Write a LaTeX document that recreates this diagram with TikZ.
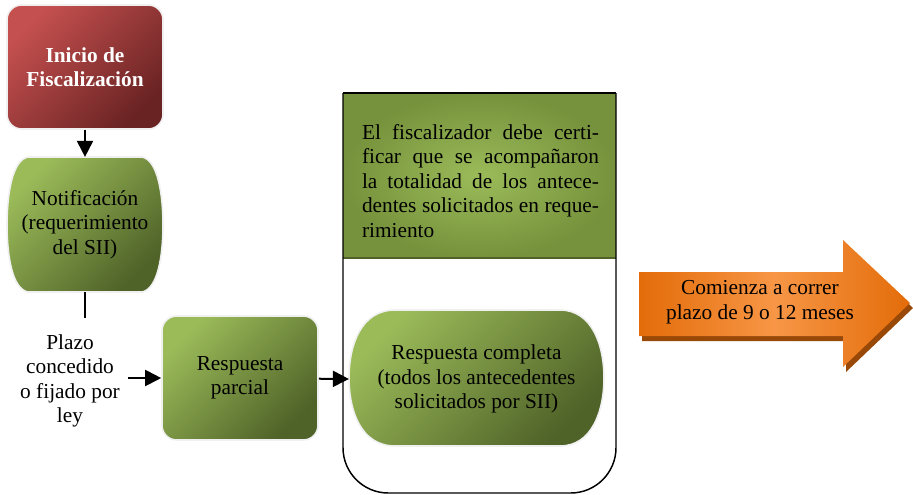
\documentclass[tikz,border=0pt]{standalone}
\usepackage{fontspec}
\setmainfont{LiberationSerif}[Extension=.ttf, UprightFont=*-Regular, BoldFont=*-Bold, ItalicFont=*-Italic, BoldItalicFont=*-BoldItalic]
\usetikzlibrary{arrows.meta,shadings}

\definecolor{redL}{HTML}{C4504F}
\definecolor{redD}{HTML}{6A2323}
\definecolor{greenL}{HTML}{9BBB59}
\definecolor{greenM}{HTML}{76923C}
\definecolor{greenD}{HTML}{4F6228}
\definecolor{orangeL}{HTML}{F79646}
\definecolor{orangeD}{HTML}{E36C09}
\definecolor{orangeS}{HTML}{984807}

\tikzset{
  txt/.style={font=\rmfamily\fontsize{16}{18.4}\selectfont, align=center, inner sep=0pt},
  redbox/.style={rounded corners=11pt, top color=redL, bottom color=redD, shading angle=45, draw=black!6, line width=1.2pt},
  greenbox/.style={top color=greenL, bottom color=greenD, shading angle=45, draw=black!6, line width=1.2pt},
  link/.style={line width=1.5pt, -{Triangle[length=12pt,width=12pt]}},
  plain/.style={line width=1.5pt},
}

\begin{document}
\begin{tikzpicture}[x=0.75pt,y=-0.75pt]
  \useasboundingbox (0,0) rectangle (913,494);
  \node[txt, redbox, minimum width=117pt, minimum height=93pt, text=white, font=\rmfamily\fontsize{16}{18.4}\selectfont\bfseries]
    (inicio) at (85,67) {Inicio de\\Fiscalización};
  \path[greenbox] (28,157) -- (142,157) .. controls (158,160) and (163,195) .. (163,225)
    .. controls (163,255) and (158,289) .. (142,292) -- (28,292)
    .. controls (12,289) and (7,255) .. (7,225) .. controls (7,195) and (12,160) .. (28,157) -- cycle;
  \node[txt, minimum width=117pt, minimum height=101pt] (notif) at (85,224.5) {Notificación\\(requerimiento\\del SII)};
  \coordinate (plazotop) at (85,318);
  \node[txt, inner xsep=6pt] (plazo) at (70,381) {Plazo\\concedido\\o fijado por\\ley};
  \node[txt, greenbox, rounded corners=11pt, minimum width=117pt, minimum height=93pt] (parcial) at (240,378) {Respuesta\\parcial};
  % recuadro
  \shade[inner color=greenL, outer color=greenM] (343,93) rectangle (616,258);
  \draw[greenD, line width=1pt] (343,258) -- (616,258);
  \draw[line width=1.1pt, rounded corners=34pt] (343,93) -- (343,493) -- (616,493) -- (616,93);
  \draw[line width=2.2pt] (343,93) -- (616,93);
  \node[txt, align=left] (certif) at (480.5,181) {%
    \makebox[177.75pt][s]{El fiscalizador debe certi-}\\
    \makebox[177.75pt][s]{ficar que se acompañaron}\\
    \makebox[177.75pt][s]{la totalidad de los antece-}\\
    \makebox[177.75pt][s]{dentes solicitados en reque-}\\
    rimiento};
  \path[greenbox] (395,310) -- (560,310) .. controls (592,310) and (604,345) .. (604,378)
    .. controls (604,411) and (592,446) .. (560,446) -- (395,446)
    .. controls (361,446) and (349,411) .. (349,378) .. controls (349,345) and (361,310) .. (395,310) -- cycle;
  \node[txt, minimum width=191pt, minimum height=102pt] (completa) at (476.5,379) {Respuesta completa\\(todos los antecedentes\\solicitados por SII)};
  % flecha
  \fill[orangeS] (642,277) -- (846,277) -- (846,245) -- (913,308) -- (846,372) -- (846,341) -- (642,341) -- cycle;
  \shade[left color=orangeD, right color=orangeD, middle color=orangeL]
    (639,272) -- (843,272) -- (843,240) -- (910,303) -- (843,367) -- (843,336) -- (639,336) -- cycle;
  \node[txt] (plazomeses) at (760,302) {Comienza a correr\\plazo de 9 o 12 meses};
  \begin{scope}[plain]
    \draw[link] (inicio) to (notif);
    \draw (notif) to (plazotop);
    \draw[link] (plazo.east |- parcial.west) to (parcial.west);
    \draw[link] (parcial) to (completa.west);
  \end{scope}
\end{tikzpicture}
\end{document}
